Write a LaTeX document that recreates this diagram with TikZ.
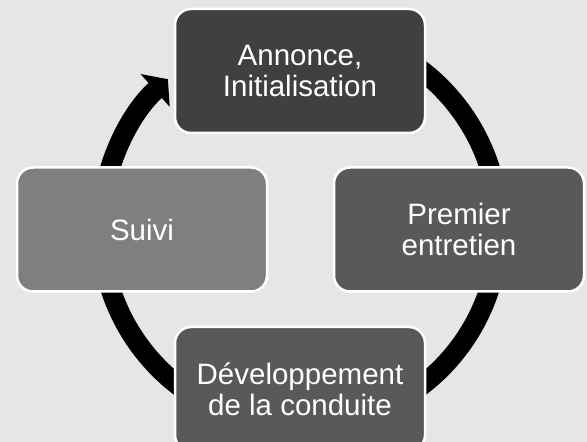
\documentclass[tikz,border=0pt]{standalone}
\usepackage{fontspec}
\setmainfont{Liberation Sans}
\usetikzlibrary{arrows.meta}
\definecolor{bgc}{HTML}{E6E6E6}
\definecolor{boxA}{HTML}{404040}
\definecolor{boxB}{HTML}{595959}
\definecolor{boxD}{HTML}{7F7F7F}
\tikzset{
  stagebox/.style={draw=white, line width=2.5pt, rounded corners=16pt,
    minimum width=250pt, minimum height=124pt, text=white, align=center,
    font=\fontsize{29.5}{31}\selectfont, inner sep=0pt},
  cyclearc/.style={line width=20pt, draw=black, -{Triangle[width=43pt,length=17pt]}}
}
\begin{document}
\begin{tikzpicture}[x=1pt,y=1pt]
\useasboundingbox (0,0) rectangle (587,442);
\clip (0,0) rectangle (587,442);
\fill[bgc] (0,0) rectangle (587,442);
\coordinate (o) at (300,214);
\draw[cyclearc] (o) ++(80:199) arc[start angle=80, end angle=-228.4, radius=199];
\node[stagebox, fill=boxA] (a) at (300,371) {Annonce,\\Initialisation};
\node[stagebox, fill=boxB] (b) at (459,212.5) {Premier\\entretien};
\node[stagebox, fill=boxB] (c) at (300,53) {Développement\\de la conduite};
\node[stagebox, fill=boxD] (d) at (142,212.5) {Suivi};
\end{tikzpicture}
\end{document}
